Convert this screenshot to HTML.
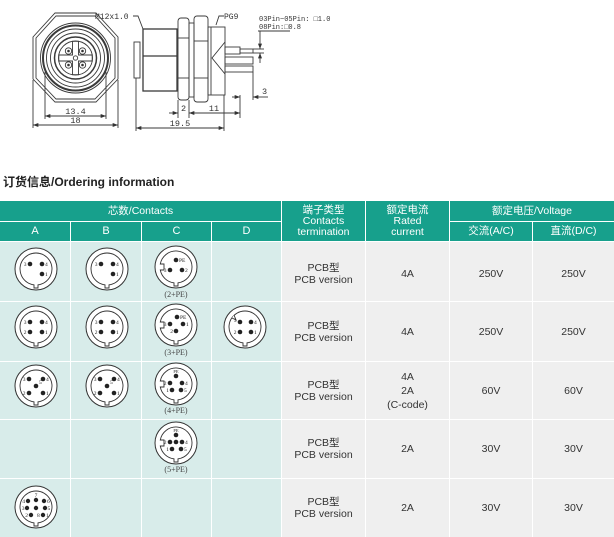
<!DOCTYPE html>
<html><head><meta charset="utf-8">
<style>
*{margin:0;padding:0;box-sizing:border-box}
body{width:614px;height:537px;background:#fff;position:relative;overflow:hidden;font-family:"Liberation Sans","Noto Sans CJK SC",sans-serif}
.c{position:absolute;display:flex;flex-direction:column;align-items:center;justify-content:center;text-align:center}
.h{background:#17a08c;color:#fff;font-size:10.5px;line-height:11px}
.l{background:#d8ecea}
.r{background:#efefef;color:#333;font-size:10.5px;line-height:12px}
</style></head><body>
<div style="position:absolute;left:3px;top:175px;font-size:12px;line-height:14px;font-weight:bold;color:#222;white-space:nowrap">订货信息/Ordering information</div>

<!-- header -->
<div class="c h" style="left:0;top:201px;width:281px;height:20px">芯数/Contacts</div>
<div class="c h" style="left:282px;top:201px;width:83px;height:40px">端子类型<br>Contacts<br>termination</div>
<div class="c h" style="left:366px;top:201px;width:83px;height:40px">额定电流<br>Rated<br>current</div>
<div class="c h" style="left:450px;top:201px;width:164px;height:20px">额定电压/Voltage</div>
<div class="c h" style="left:0;top:222px;width:70px;height:19px;font-size:11px">A</div>
<div class="c h" style="left:71px;top:222px;width:70px;height:19px;font-size:11px">B</div>
<div class="c h" style="left:142px;top:222px;width:69px;height:19px;font-size:11px">C</div>
<div class="c h" style="left:212px;top:222px;width:69px;height:19px;font-size:11px">D</div>
<div class="c h" style="left:450px;top:222px;width:82px;height:19px">交流(A/C)</div>
<div class="c h" style="left:533px;top:222px;width:81px;height:19px">直流(D/C)</div>

<!-- row 1 -->
<div class="c l" style="left:0;top:242px;width:70px;height:59px"></div>
<div class="c l" style="left:71px;top:242px;width:70px;height:59px"></div>
<div class="c l" style="left:142px;top:242px;width:69px;height:59px"></div>
<div class="c l" style="left:212px;top:242px;width:69px;height:59px"></div>
<div class="c r" style="left:282px;top:242px;width:83px;height:59px;padding-top:4px">PCB型<br>PCB version</div>
<div class="c r" style="left:366px;top:242px;width:83px;height:59px;padding-top:4px">4A</div>
<div class="c r" style="left:450px;top:242px;width:82px;height:59px;padding-top:4px">250V</div>
<div class="c r" style="left:533px;top:242px;width:81px;height:59px;padding-top:4px">250V</div>
<!-- row 2 -->
<div class="c l" style="left:0;top:302px;width:70px;height:59px"></div>
<div class="c l" style="left:71px;top:302px;width:70px;height:59px"></div>
<div class="c l" style="left:142px;top:302px;width:69px;height:59px"></div>
<div class="c l" style="left:212px;top:302px;width:69px;height:59px"></div>
<div class="c r" style="left:282px;top:302px;width:83px;height:59px">PCB型<br>PCB version</div>
<div class="c r" style="left:366px;top:302px;width:83px;height:59px">4A</div>
<div class="c r" style="left:450px;top:302px;width:82px;height:59px">250V</div>
<div class="c r" style="left:533px;top:302px;width:81px;height:59px">250V</div>
<!-- row 3 -->
<div class="c l" style="left:0;top:362px;width:70px;height:57px"></div>
<div class="c l" style="left:71px;top:362px;width:70px;height:57px"></div>
<div class="c l" style="left:142px;top:362px;width:69px;height:57px"></div>
<div class="c l" style="left:212px;top:362px;width:69px;height:57px"></div>
<div class="c r" style="left:282px;top:362px;width:83px;height:57px">PCB型<br>PCB version</div>
<div class="c r" style="left:366px;top:362px;width:83px;height:57px;line-height:14px">4A<br>2A<br>(C-code)</div>
<div class="c r" style="left:450px;top:362px;width:82px;height:57px">60V</div>
<div class="c r" style="left:533px;top:362px;width:81px;height:57px">60V</div>
<!-- row 4 -->
<div class="c l" style="left:0;top:420px;width:70px;height:58px"></div>
<div class="c l" style="left:71px;top:420px;width:70px;height:58px"></div>
<div class="c l" style="left:142px;top:420px;width:69px;height:58px"></div>
<div class="c l" style="left:212px;top:420px;width:69px;height:58px"></div>
<div class="c r" style="left:282px;top:420px;width:83px;height:58px">PCB型<br>PCB version</div>
<div class="c r" style="left:366px;top:420px;width:83px;height:58px">2A</div>
<div class="c r" style="left:450px;top:420px;width:82px;height:58px">30V</div>
<div class="c r" style="left:533px;top:420px;width:81px;height:58px">30V</div>
<!-- row 5 -->
<div class="c l" style="left:0;top:479px;width:70px;height:58px"></div>
<div class="c l" style="left:71px;top:479px;width:70px;height:58px"></div>
<div class="c l" style="left:142px;top:479px;width:69px;height:58px"></div>
<div class="c l" style="left:212px;top:479px;width:69px;height:58px"></div>
<div class="c r" style="left:282px;top:479px;width:83px;height:58px">PCB型<br>PCB version</div>
<div class="c r" style="left:366px;top:479px;width:83px;height:58px">2A</div>
<div class="c r" style="left:450px;top:479px;width:82px;height:58px">30V</div>
<div class="c r" style="left:533px;top:479px;width:81px;height:58px">30V</div>

<svg width="614" height="537" style="position:absolute;left:0;top:0" xmlns="http://www.w3.org/2000/svg">
<defs>
<marker id="ar" viewBox="0 0 8 6" refX="8" refY="3" markerWidth="6" markerHeight="4" orient="auto-start-reverse" markerUnits="userSpaceOnUse"><path d="M0,0 L8,3 L0,6 Z" fill="#333"/></marker>
<g id="bA"><circle r="21" fill="#fff" stroke="#333" stroke-width="1"/><path d="M -2 15.87 L -2 19 L 2 19 L 2 15.87 A 16 16 0 1 0 -2 15.87 Z" fill="none" stroke="#333" stroke-width="0.9"/></g>
<g id="bC"><circle r="21" fill="#fff" stroke="#333" stroke-width="1"/><path d="M -15.7 -3 L -12 -3 L -12 3 L -15.7 3 A 16 16 0 0 0 -2 15.87 L -2 19 L 2 19 L 2 15.87 A 16 16 0 1 0 -15.7 -3 Z" fill="none" stroke="#333" stroke-width="0.9"/></g>
<g id="bD"><circle r="21" fill="#fff" stroke="#333" stroke-width="1"/><path d="M -2 15.87 L -2 19 L 2 19 L 2 15.87 A 16 16 0 1 0 -2 15.87 Z" fill="none" stroke="#333" stroke-width="0.9"/><path d="M -13 -9 L -9 -7 L -11 -12" fill="#fff" stroke="#333" stroke-width="0.9"/></g>
</defs>

<!-- front view -->
<g fill="none" stroke="#3a3a3a" stroke-width="0.9">
<polygon points="55,13 96,13 118,37 118,79 96,102 55,102 33,79 33,37"/>
<polygon points="56,16 95,16 115,38 115,78 95,99 56,99 36,78 36,38"/>
<circle cx="75.5" cy="58" r="35"/>
<circle cx="75.5" cy="58" r="32.5" stroke-width="2"/>
<circle cx="75.5" cy="58" r="29"/>
<circle cx="75.5" cy="58" r="25"/>
<circle cx="75.5" cy="58" r="21" stroke-width="1.5"/>
<circle cx="75.5" cy="58" r="17"/>
<path d="M72.5 41.3 V55 H58.8 V61 H72.5 V74.7 H78.5 V61 H92.2 V55 H78.5 V41.3 Z"/>
<circle cx="75.5" cy="58" r="2.2"/>
<circle cx="68.5" cy="51" r="3.2"/><circle cx="82.5" cy="51" r="3.2"/>
<circle cx="68.5" cy="65" r="3.2"/><circle cx="82.5" cy="65" r="3.2"/>
<line x1="33" y1="80" x2="33" y2="128"/><line x1="118" y1="80" x2="118" y2="128"/>
<line x1="45" y1="72" x2="45" y2="119"/><line x1="106" y1="72" x2="106" y2="119"/>
<line x1="45" y1="116" x2="106" y2="116" marker-start="url(#ar)" marker-end="url(#ar)"/>
<line x1="33" y1="125" x2="118" y2="125" marker-start="url(#ar)" marker-end="url(#ar)"/>
</g>
<g fill="#333"><circle cx="68.5" cy="51" r="1.3"/><circle cx="82.5" cy="51" r="1.3"/><circle cx="68.5" cy="65" r="1.3"/><circle cx="82.5" cy="65" r="1.3"/></g>

<!-- side view -->
<g fill="none" stroke="#3a3a3a" stroke-width="0.9">
<rect x="134" y="42" width="6" height="36"/>
<rect x="143" y="29" width="34" height="62" stroke-width="1.3"/>
<line x1="143" y1="56" x2="177" y2="56" stroke-width="1.3"/>
<rect x="178" y="18" width="11" height="82" rx="3"/>
<line x1="178" y1="38" x2="189" y2="38"/><line x1="178" y1="78" x2="189" y2="78"/>
<rect x="189" y="23" width="5" height="74"/>
<rect x="194" y="16" width="14" height="86" rx="3"/>
<line x1="194" y1="41" x2="208" y2="41"/><line x1="194" y1="78" x2="208" y2="78"/>
<rect x="208" y="27" width="17" height="68"/>
<line x1="211" y1="27" x2="211" y2="95"/>
<polyline points="225,42 212,58 225,74"/>
<rect x="225" y="47" width="15" height="7"/><rect x="240" y="49" width="13" height="4"/>
<rect x="225" y="57" width="28" height="7"/>
<rect x="225" y="66" width="28" height="6"/>
<polyline points="216,25 219,16 224,16"/>
<polyline points="133,16 138,16 143,29"/>
<line x1="258" y1="31" x2="290" y2="31"/>
<line x1="260" y1="31" x2="260" y2="49" marker-end="url(#ar)"/>
<line x1="260" y1="63" x2="260" y2="53" marker-end="url(#ar)"/>
<line x1="253" y1="49" x2="264" y2="49"/><line x1="253" y1="53" x2="264" y2="53"/>
<line x1="253" y1="72" x2="253" y2="100"/>
<line x1="240" y1="95" x2="240" y2="118"/>
<line x1="232" y1="97" x2="240" y2="97" marker-end="url(#ar)"/>
<line x1="268" y1="97" x2="253" y2="97" marker-end="url(#ar)"/>
<line x1="178" y1="100" x2="178" y2="118"/><line x1="189" y1="100" x2="189" y2="118"/>
<line x1="136" y1="78" x2="136" y2="131"/><line x1="224" y1="95" x2="224" y2="131"/>
<line x1="169" y1="113" x2="178" y2="113" marker-end="url(#ar)"/>
<line x1="189" y1="113" x2="240" y2="113" marker-start="url(#ar)" marker-end="url(#ar)"/>
<line x1="136" y1="128" x2="224" y2="128" marker-start="url(#ar)" marker-end="url(#ar)"/>
</g>
<g fill="#333" font-family="'Liberation Mono','DejaVu Sans Mono',monospace" font-size="8.5">
<text x="75.5" y="114" text-anchor="middle">13.4</text>
<text x="75.5" y="123" text-anchor="middle">18</text>
<text x="95" y="19" font-size="8">M12x1.0</text>
<text x="224" y="19" font-size="8">PG9</text>
<text x="259" y="21" font-size="7">03Pin~05Pin: □1.0</text>
<text x="259" y="29" font-size="7">08Pin:□0.8</text>
<text x="262" y="94">3</text>
<text x="183.5" y="111" text-anchor="middle">2</text>
<text x="214" y="111" text-anchor="middle">11</text>
<text x="180" y="126" text-anchor="middle">19.5</text>
</g>

<!-- connector faces -->
<g font-family="'Liberation Serif',serif" font-size="5.5" fill="#222">
<!-- R1 A -->
<g transform="translate(36,269)"><use href="#bA"/><circle cx="-6" cy="-5" r="2.3"/><circle cx="6" cy="-5" r="2.3"/><circle cx="6" cy="5" r="2.3"/><text x="-9.5" y="-3" text-anchor="end">3</text><text x="9" y="-3">4</text><text x="9" y="7">1</text></g>
<g transform="translate(107,269)"><use href="#bA"/><circle cx="-6" cy="-5" r="2.3"/><circle cx="6" cy="-5" r="2.3"/><circle cx="6" cy="5" r="2.3"/><text x="-9.5" y="-3" text-anchor="end">3</text><text x="9" y="-3">4</text><text x="9" y="7">1</text></g>
<g transform="translate(176,267)"><use href="#bC"/><circle cx="0" cy="-7" r="2.3"/><circle cx="-6" cy="3" r="2.3"/><circle cx="6" cy="3" r="2.3"/><text x="3" y="-5">PE</text><text x="-9.5" y="5" text-anchor="end">3</text><text x="9" y="5">2</text></g>
<text x="176" y="297" text-anchor="middle" font-size="8" fill="#444">(2+PE)</text>
<!-- R2 -->
<g transform="translate(36,327)"><use href="#bA"/><circle cx="-6" cy="-5" r="2.3"/><circle cx="6" cy="-5" r="2.3"/><circle cx="-6" cy="5" r="2.3"/><circle cx="6" cy="5" r="2.3"/><text x="-9.5" y="-3" text-anchor="end">3</text><text x="9" y="-3">4</text><text x="-9.5" y="7" text-anchor="end">2</text><text x="9" y="7">1</text></g>
<g transform="translate(107,327)"><use href="#bA"/><circle cx="-6" cy="-5" r="2.3"/><circle cx="6" cy="-5" r="2.3"/><circle cx="-6" cy="5" r="2.3"/><circle cx="6" cy="5" r="2.3"/><text x="-9.5" y="-3" text-anchor="end">3</text><text x="9" y="-3">4</text><text x="-9.5" y="7" text-anchor="end">2</text><text x="9" y="7">1</text></g>
<g transform="translate(176,325)"><use href="#bC"/><circle cx="1" cy="-8" r="2.3"/><circle cx="-6" cy="-1" r="2.3"/><circle cx="7" cy="-1" r="2.3"/><circle cx="0" cy="6" r="2.3"/><text x="4" y="-6">PE</text><text x="-9.5" y="1" text-anchor="end">3</text><text x="10" y="1">1</text><text x="-3" y="8" text-anchor="end">2</text></g>
<text x="176" y="355" text-anchor="middle" font-size="8" fill="#444">(3+PE)</text>
<g transform="translate(245,327)"><use href="#bD"/><circle cx="-5" cy="-5" r="2.3"/><circle cx="6" cy="-5" r="2.3"/><circle cx="-5" cy="5" r="2.3"/><circle cx="6" cy="5" r="2.3"/><text x="-8.5" y="-5" text-anchor="end">3</text><text x="9" y="-3">4</text><text x="-8.5" y="7" text-anchor="end">2</text><text x="9" y="7">1</text></g>
<!-- R3 -->
<g transform="translate(36,386)"><use href="#bA"/><circle cx="-7" cy="-7" r="2.3"/><circle cx="7" cy="-7" r="2.3"/><circle cx="0" cy="0" r="2.3"/><circle cx="-7" cy="7" r="2.3"/><circle cx="7" cy="7" r="2.3"/><text x="-10.5" y="-5" text-anchor="end">3</text><text x="10" y="-5">4</text><text x="3" y="-2">5</text><text x="-10.5" y="9" text-anchor="end">2</text><text x="10" y="9">1</text></g>
<g transform="translate(107,386)"><use href="#bA"/><circle cx="-7" cy="-7" r="2.3"/><circle cx="7" cy="-7" r="2.3"/><circle cx="0" cy="0" r="2.3"/><circle cx="-7" cy="7" r="2.3"/><circle cx="7" cy="7" r="2.3"/><text x="-10.5" y="-5" text-anchor="end">3</text><text x="10" y="-5">4</text><text x="3" y="-2">5</text><text x="-10.5" y="9" text-anchor="end">2</text><text x="10" y="9">1</text></g>
<g transform="translate(176,384)"><use href="#bC"/><circle cx="0" cy="-8" r="2.3"/><circle cx="-6" cy="-1" r="2.3"/><circle cx="6" cy="-1" r="2.3"/><circle cx="-4" cy="6" r="2.3"/><circle cx="5" cy="6" r="2.3"/><text x="0" y="-11" text-anchor="middle" font-size="4.5">PE</text><text x="-9.5" y="1" text-anchor="end">2</text><text x="9" y="1">4</text><text x="-7" y="8" text-anchor="end">1</text><text x="8" y="8">5</text></g>
<text x="176" y="413" text-anchor="middle" font-size="8" fill="#444">(4+PE)</text>
<!-- R4 -->
<g transform="translate(176,443)"><use href="#bC"/><circle cx="0" cy="-8" r="2.3"/><circle cx="-6" cy="-1" r="2.3"/><circle cx="0" cy="-1" r="2.3"/><circle cx="6" cy="-1" r="2.3"/><circle cx="-4" cy="6" r="2.3"/><circle cx="5" cy="6" r="2.3"/><text x="0" y="-11" text-anchor="middle" font-size="4.5">PE</text><text x="-9.5" y="1" text-anchor="end">2</text><text x="9" y="1">4</text><text x="-7" y="8" text-anchor="end">1</text><text x="8" y="8">5</text></g>
<text x="176" y="472" text-anchor="middle" font-size="8" fill="#444">(5+PE)</text>
<!-- R5 -->
<g transform="translate(36,507)"><use href="#bA"/><circle cx="-8" cy="-6" r="2.2"/><circle cx="0" cy="-7" r="2.2"/><circle cx="8" cy="-6" r="2.2"/><circle cx="-9" cy="1" r="2.2"/><circle cx="0" cy="1" r="2.2"/><circle cx="9" cy="1" r="2.2"/><circle cx="-5" cy="8" r="2.2"/><circle cx="7" cy="8" r="2.2"/><text x="-11" y="-4" text-anchor="end">4</text><text x="0" y="-10" text-anchor="middle">7</text><text x="11" y="-4">6</text><text x="-11.5" y="3" text-anchor="end">3</text><text x="11.5" y="3">5</text><text x="-8" y="10" text-anchor="end">2</text><text x="1" y="10">8</text><text x="10" y="10">1</text></g>
</g>
</svg>
</body></html>
